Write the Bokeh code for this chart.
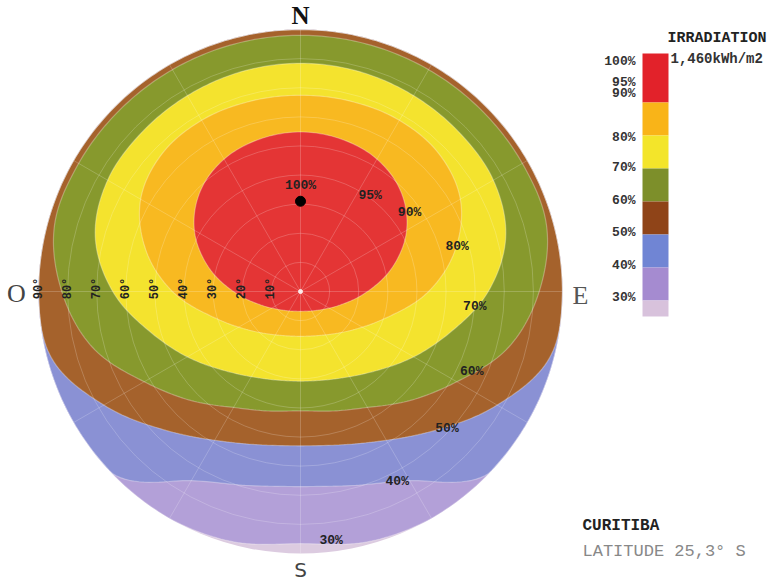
import numpy as np
from bokeh.plotting import figure
from bokeh.models import Range1d
from bokeh.core.properties import value
from bokeh.embed import file_html
from bokeh.resources import INLINE

# ---------------------------------------------------------------------------
# Iso-irradiation lines on the tilt/azimuth sky diagram (Curitiba).
# Azimuth in degrees clockwise from north, east half; the west half mirrors it.
# Each list gives the surface tilt (deg) where the line crosses that azimuth.
# ---------------------------------------------------------------------------
AZIMUTH = [0, 15, 30, 45, 60, 75, 90, 105, 120, 135, 150, 165, 180]

TILT_90 = [54.8, 54.2, 52.5, 48.7, 42.1, 32.8, 23.0, 15.7, 11.4, 9.0, 7.7, 7.0, 6.8]
TILT_80 = [67.4, 67.6, 67.9, 67.1, 63.4, 55.0, 44.0, 32.1, 24.5, 19.9, 17.2, 15.8, 15.4]
TILT_70 = [78.4, 78.2, 77.7, 77.2, 76.5, 73.0, 64.5, 53.5, 44.9, 38.1, 33.8, 31.5, 30.8]
TILT_60 = [88.0, 88.0, 88.0, 88.0, 88.0, 87.5, 82.0, 74.0, 62.0, 53.0, 46.0, 42.5, 41.0]
TILT_50 = [90, 90, 90, 90, 90, 90, 90, 88.5, 78.0, 67.0, 59.0, 54.5, 53.0]
TILT_40 = [90, 90, 90, 90, 90, 90, 90, 90, 90, 89.5, 75.0, 69.0, 67.0]
TILT_30 = [90, 90, 90, 90, 90, 90, 90, 90, 90, 90, 90, 89.0, 86.6]

LEVELS = [30, 40, 50, 60, 70, 80, 90]
LEVEL_TILTS = [TILT_30, TILT_40, TILT_50, TILT_60, TILT_70, TILT_80, TILT_90]

# optimum orientation (100 %)
MAX_AZ, MAX_TILT = 0, 31.0

# on-diagram labels of the lines
LABEL_TEXT = ["95%", "90%", "80%", "70%", "60%", "50%", "40%", "30%"]
LABEL_AZ = [36, 54, 74, 95, 115, 133, 153, 173]
LABEL_TILT = [40.7, 46.3, 56.0, 60.1, 64.9, 68.8, 73.2, 86.2]

# tilt scale along the west axis
TILT_TICKS = [10, 20, 30, 40, 50, 60, 70, 80, 90]

# colour legend
LEGEND_TICKS = ["100%", "95%", "90%", "80%", "70%", "60%", "50%", "40%", "30%"]

# band colours: below 30 %, 30-40, 40-50, 50-60, 60-70, 70-80, 80-90, 90-100
DISK_COLORS = ["#dccbe0", "#b3a0d8", "#8a91d4", "#a5622c", "#87992d",
               "#f4e32e", "#f8b921", "#e43535"]
LEGEND_COLORS = ["#e2222a", "#f9b418", "#f3e52a", "#7d8f2a",
                 "#8f4418", "#7085d4", "#a58bd0", "#d8c2dc"]

# ---------------------------------------------------------------------------
W, H = 771, 581
CX, CY, R = 300, 290, 262          # diagram centre and horizon radius
K = R / 90.0                        # plot units per degree of tilt


def sy(y_screen):
    """top-down pixel row -> plot y"""
    return H - y_screen


def polar(az_deg, tilt):
    a = np.radians(np.asarray(az_deg, dtype=float))
    t = np.asarray(tilt, dtype=float)
    return CX + K * t * np.sin(a), CY + K * t * np.cos(a)


def closed_line(half):
    """Full 360 deg line from the east half, drawn as a smooth closed curve
    and held inside the horizon circle."""
    full = list(half) + list(half[11:0:-1])
    azs = list(AZIMUTH) + [360 - a for a in AZIMUTH[11:0:-1]]
    n = len(full)
    out_az, out_r = [], []
    for i in range(n):
        p0, p1, p2, p3 = full[(i - 1) % n], full[i], full[(i + 1) % n], full[(i + 2) % n]
        for t in np.linspace(0, 1, 16, endpoint=False):
            r = 0.5 * (2 * p1 + (-p0 + p2) * t + (2 * p0 - 5 * p1 + 4 * p2 - p3) * t ** 2
                       + (-p0 + 3 * p1 - 3 * p2 + p3) * t ** 3)
            out_az.append(azs[i] + 15 * t)
            out_r.append(min(r, 90.0))
    return polar(out_az, out_r)


p = figure(width=W, height=H, x_range=Range1d(0, W), y_range=Range1d(0, H),
           x_axis_type=None, y_axis_type=None, toolbar_location=None,
           output_backend="svg", min_border=0, outline_line_color=None,
           background_fill_color="white", border_fill_color="white")

mono = value("Liberation Mono")

# horizon disk, then the bands from the outermost line inwards
p.circle(x=[CX], y=[CY], radius=R, fill_color=DISK_COLORS[0], line_color=None)
lines = []
for lvl, tilts, col in zip(LEVELS, LEVEL_TILTS, DISK_COLORS[1:]):
    xs, ys = closed_line(tilts)
    lines.append((xs, ys))
    p.patch(x=xs, y=ys, fill_color=col, line_color=None)

# faint polar grid
for t in TILT_TICKS[:-1]:
    p.circle(x=[CX], y=[CY], radius=K * t, fill_color=None,
             line_color="white", line_alpha=0.2, line_width=1)
spoke_az = np.arange(0, 360, 30)
ex, ey = polar(spoke_az, [90] * len(spoke_az))
p.segment(x0=[CX] * len(spoke_az), y0=[CY] * len(spoke_az), x1=ex, y1=ey,
          line_color="white", line_alpha=0.2, line_width=1)

# thin light edges between bands
for xs, ys in lines:
    p.line(x=np.append(xs, xs[0]), y=np.append(ys, ys[0]),
           line_color="white", line_alpha=0.3, line_width=1.2)

p.scatter(x=[CX], y=[CY], size=4, color="white", alpha=0.8)

# optimum point
mx, my = polar([MAX_AZ], [MAX_TILT])
p.scatter(x=mx, y=my, size=10, color="black")
p.text(x=mx, y=my, text=["100%"], y_offset=-16, text_align="center",
       text_baseline="middle", text_font=mono, text_font_style="bold",
       text_font_size="13px", text_color="#222222")

lx, ly = polar(LABEL_AZ, LABEL_TILT)
p.text(x=lx, y=ly, text=LABEL_TEXT, text_align="center", text_baseline="middle",
       text_font=mono, text_font_style="bold", text_font_size="13px",
       text_color="#222222")

# tilt scale (west axis)
tx = [CX - K * t for t in TILT_TICKS]
p.text(x=tx, y=[CY + 3] * len(tx), text=[f"{t}°" for t in TILT_TICKS],
       angle=np.pi / 2, text_align="center", text_baseline="middle",
       text_font=mono, text_font_style="bold", text_font_size="12px",
       text_color="#222222")

# cardinal points
p.text(x=[CX], y=[sy(15)], text=["N"], text_align="center", text_baseline="middle",
       text_font=value("Liberation Serif"), text_font_style="bold",
       text_font_size="25px", text_color="#111111")
p.text(x=[CX], y=[sy(569)], text=["S"], text_align="center", text_baseline="middle",
       text_font=value("DejaVu Sans"), text_font_size="20px", text_color="#444444")
p.text(x=[16], y=[sy(293)], text=["O"], text_align="center", text_baseline="middle",
       text_font=value("Liberation Serif"), text_font_size="26px", text_color="#444444")
p.text(x=[580], y=[sy(295)], text=["E"], text_align="center", text_baseline="middle",
       text_font=value("Liberation Serif"), text_font_size="26px", text_color="#555555")

# colour legend
edges = [53, 102, 135, 168, 201, 234, 267, 300, 316]
p.quad(left=642, right=668, top=[sy(e) for e in edges[:-1]],
       bottom=[sy(e) for e in edges[1:]], fill_color=LEGEND_COLORS, line_color=None)
tick_rows = [61, 82, 93, 137, 167, 200, 232, 265, 297]
p.text(x=[635] * len(tick_rows), y=[sy(r) for r in tick_rows], text=LEGEND_TICKS,
       text_align="right", text_baseline="middle", text_font=mono,
       text_font_style="bold", text_font_size="13px", text_color="#333333")
p.text(x=[667], y=[sy(38)], text=["IRRADIATION"], text_align="left",
       text_baseline="middle", text_font=mono, text_font_style="bold",
       text_font_size="15px", text_color="#222222")
p.text(x=[670], y=[sy(58)], text=["1,460kWh/m2"], text_align="left",
       text_baseline="middle", text_font=mono, text_font_style="bold",
       text_font_size="14px", text_color="#333333")

# location
p.text(x=[582], y=[sy(525)], text=["CURITIBA"], text_align="left",
       text_baseline="middle", text_font=mono, text_font_style="bold",
       text_font_size="16px", text_color="#222222")
p.text(x=[582], y=[sy(551)], text=["LATITUDE 25,3° S"], text_align="left",
       text_baseline="middle", text_font=mono, text_font_size="17px",
       text_color="#888888")

open("out.html", "w").write(file_html(p, INLINE))
